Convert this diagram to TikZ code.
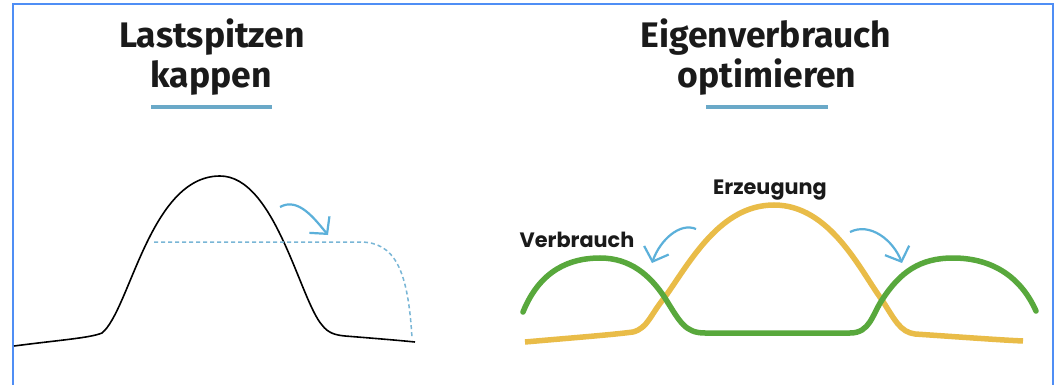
\documentclass[tikz,border=0pt]{standalone}
\usepackage{fontspec}
\newfontfamily\titlefont{Fira Sans}
\newfontfamily\labelfont{Poppins}
\usetikzlibrary{arrows.meta}
\definecolor{cgreen}{HTML}{58A83C}
\definecolor{cyellow}{HTML}{E9BC48}
\definecolor{culine}{HTML}{6AA9C8}
\definecolor{carrow}{HTML}{5BB0DA}
\definecolor{cdash}{HTML}{79B6D6}
\definecolor{cframe}{HTML}{4F8EF5}
\definecolor{ctext}{HTML}{1A1A1A}
\tikzset{
  titletext/.style={anchor=base, inner sep=0pt, text=ctext, font=\titlefont\bfseries\fontsize{35.5}{40}\selectfont},
  labeltext/.style={anchor=base, inner sep=0pt, text=ctext, font=\labelfont\bfseries\fontsize{20.8}{24}\selectfont},
  uline/.style={draw=culine, line width=4pt},
  frame/.style={draw=cframe, line width=2pt},
  loadcurve/.style={draw=black, line width=1.6pt},
  cutline/.style={draw=cdash, line width=1.5pt, dash pattern=on 4pt off 3pt},
  bend arrow/.style={draw=carrow, line width=2.2pt, -{Straight Barb[length=12pt,width=26pt,line width=2.2pt]}},
  verbrauch/.style={draw=cgreen, line width=5.5pt, line cap=round},
  erzeugung/.style={draw=cyellow, line width=5.5pt},
}
\begin{document}
\begin{tikzpicture}[x=1pt,y=-1pt]
\useasboundingbox (0,0) rectangle (1058,385);
\fill[white] (0,0) rectangle (1058,385);
\draw[frame] (13,385) -- (13,4) -- (1053,4) -- (1053,385);

% titles
\node[titletext] (t1a) at (212,48) {Lastspitzen};
\node[titletext] (t1b) at (211,88) {kappen};
\draw[uline] (151,107) -- (272,107);
\node[titletext] (t2a) at (766,48) {Eigenverbrauch};
\node[titletext] (t2b) at (767,88) {optimieren};
\draw[uline] (706,107) -- (828,107);

% left: load peak
\draw[loadcurve] (14,346) .. controls (60,340) and (90,338) .. (102,333)
  .. controls (130,310) and (150,176) .. (220,176)
  .. controls (275,176) and (300,300) .. (322,325)
  .. controls (328,333) and (335,335) .. (345,336)
  .. controls (370,338) and (395,340) .. (415,342);
\draw[cutline] (154,242) -- (360,242) .. controls (395,242) and (408,270) .. (412,338);
\draw[bend arrow] (280,207) .. controls (298,197) and (314,218) .. (328,235);

% right: self consumption
\draw[erzeugung] (525,342) .. controls (570,338) and (610,335) .. (633,332)
  .. controls (648,328) and (650,315) .. (665,297)
  .. controls (690,262) and (720,205) .. (774,205)
  .. controls (830,205) and (860,270) .. (882,300)
  .. controls (895,320) and (900,332) .. (915,334)
  .. controls (960,337) and (1000,340) .. (1023,341);
\draw[verbrauch] (523,312) .. controls (540,270) and (570,258) .. (600,258)
  .. controls (630,258) and (650,275) .. (665,298)
  .. controls (680,322) and (685,333) .. (705,333)
  -- (850,333)
  .. controls (870,333) and (872,315) .. (882,300)
  .. controls (900,272) and (920,258) .. (953,258)
  .. controls (990,258) and (1020,275) .. (1036,311);
\node[labeltext] (lv) at (577,247) {Verbrauch};
\node[labeltext] (le) at (770,194) {Erzeugung};
\draw[bend arrow] (696,229) .. controls (680,222) and (660,240) .. (652,263);
\draw[bend arrow] (850,232) .. controls (870,222) and (893,240) .. (902,263);
\end{tikzpicture}
\end{document}
